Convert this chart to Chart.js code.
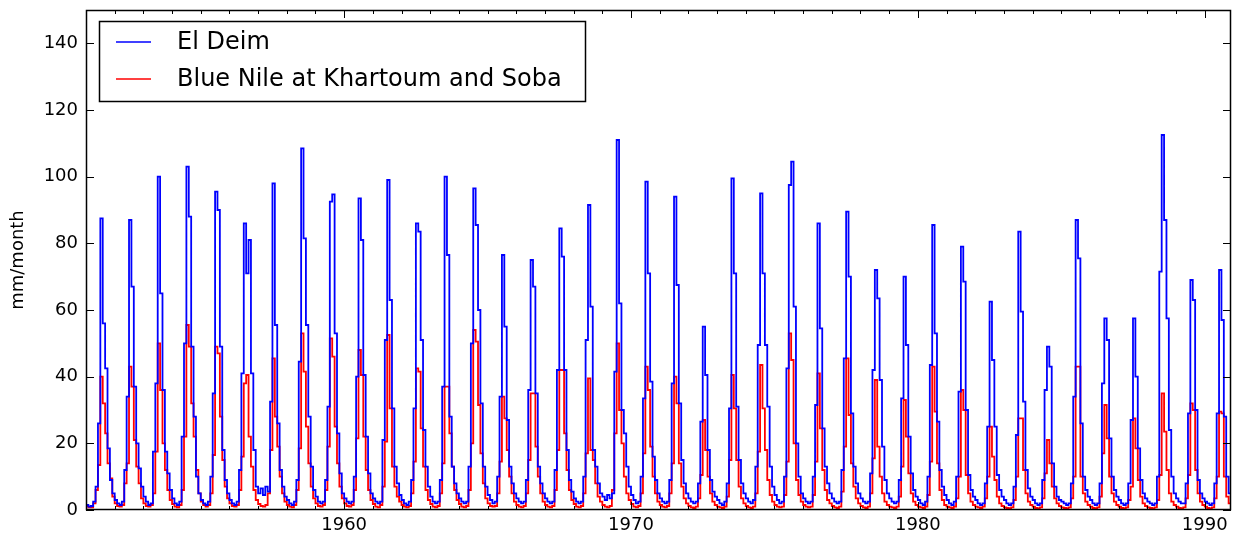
<!DOCTYPE html>
<html>
<head>
<meta charset="utf-8">
<script src="https://cdn.jsdelivr.net/npm/chart.js@4.4.1/dist/chart.umd.min.js"></script>
<style>
  html, body { margin: 0; padding: 0; background: #fff; }
</style>
</head>
<body>
<canvas id="myChart" width="1233" height="538"></canvas>
<script>
// monthly values, Jan..Dec, one row per year starting 1951
const startYear = 1951;

const elDeim = [
  2.5, 1.5, 1.0, 1.2, 2.5, 7.0, 26.0, 87.5, 56.0, 42.5, 18.5, 9.0,
  5.0, 3.0, 2.0, 1.5, 2.5, 12.0, 34.0, 87.0, 67.0, 37.0, 20.0, 12.5,
  7.0, 4.0, 2.5, 1.5, 2.0, 17.5, 38.0, 100.0, 65.0, 36.0, 17.5, 11.0,
  6.0, 3.5, 2.0, 1.5, 2.5, 22.0, 50.0, 103.0, 88.0, 49.0, 28.0, 10.0,
  5.0, 3.0, 2.0, 1.5, 2.5, 10.0, 35.0, 95.5, 90.0, 49.0, 18.0, 9.0,
  5.0, 3.0, 2.0, 1.5, 2.5, 12.0, 41.0, 86.0, 71.0, 81.0, 41.0, 18.0,
  7.0, 5.0, 6.5, 4.5, 7.0, 5.5, 32.5, 98.0, 55.5, 26.0, 12.0, 7.0,
  4.0, 3.0, 2.0, 1.5, 2.5, 9.0, 44.5, 108.5, 81.5, 55.5, 28.0, 13.0,
  6.0, 4.0, 2.5, 2.0, 2.5, 9.0, 31.0, 92.5, 94.7, 53.0, 23.0, 11.0,
  5.0, 3.5, 2.5, 2.0, 2.5, 10.0, 40.0, 93.5, 81.0, 40.5, 22.0, 11.0,
  5.0, 3.5, 2.5, 2.0, 2.5, 21.0, 51.0, 99.0, 63.0, 30.5, 13.0, 8.0,
  4.5, 3.0, 2.0, 1.5, 2.5, 9.0, 30.5, 86.0, 83.5, 51.0, 24.0, 13.0,
  7.0, 4.0, 2.5, 2.0, 2.5, 9.0, 37.0, 100.0, 76.5, 28.0, 13.0, 8.0,
  5.0, 3.5, 2.5, 2.0, 2.5, 13.0, 50.0, 96.5, 85.5, 60.0, 32.0, 13.0,
  7.0, 4.5, 3.0, 2.0, 2.5, 10.0, 34.0, 76.5, 55.0, 27.0, 13.0, 8.0,
  5.0, 3.5, 2.5, 2.0, 2.5, 9.0, 36.0, 75.0, 67.0, 35.0, 13.0, 8.0,
  5.0, 3.5, 2.5, 2.0, 2.5, 12.0, 42.0, 84.5, 76.0, 42.0, 18.0, 9.0,
  5.5, 3.5, 2.5, 2.0, 2.5, 10.0, 51.0, 91.5, 61.0, 18.0, 13.0, 8.0,
  5.0, 4.0, 3.0, 4.5, 3.5, 5.0, 41.5, 111.0, 62.0, 30.0, 23.0, 13.0,
  7.0, 4.5, 3.0, 2.0, 2.5, 10.0, 33.5, 98.5, 71.0, 38.5, 16.0, 9.0,
  5.0, 3.5, 2.5, 2.0, 2.5, 9.0, 38.0, 94.0, 67.5, 32.0, 15.0, 8.0,
  5.0, 3.5, 2.5, 2.0, 2.5, 8.0, 26.5, 55.0, 40.5, 18.0, 9.0, 5.5,
  4.0, 3.0, 2.0, 1.5, 2.5, 8.0, 30.5, 99.5, 71.0, 31.0, 15.0, 8.0,
  5.0, 3.5, 2.5, 2.0, 3.0, 13.0, 49.5, 95.0, 71.0, 49.5, 31.0, 13.0,
  7.0, 4.5, 3.0, 2.0, 2.5, 10.0, 42.5, 97.5, 104.5, 61.0, 20.0, 10.0,
  5.0, 3.5, 2.5, 2.0, 2.5, 10.0, 31.5, 86.0, 54.5, 24.5, 13.0, 8.0,
  5.0, 3.5, 2.5, 2.0, 2.5, 12.0, 45.5, 89.5, 70.0, 29.0, 13.0, 8.0,
  5.0, 3.5, 2.5, 2.0, 2.5, 11.0, 42.0, 72.0, 63.5, 39.0, 19.0, 9.0,
  5.0, 3.5, 2.5, 2.0, 2.5, 9.0, 33.5, 70.0, 49.5, 22.0, 11.0, 6.0,
  4.0, 3.0, 2.0, 1.5, 2.5, 10.0, 43.5, 85.5, 53.0, 26.5, 12.0, 7.0,
  4.5, 3.0, 2.0, 1.5, 2.5, 10.0, 35.5, 79.0, 68.5, 30.0, 10.5, 6.0,
  4.0, 3.0, 2.0, 1.5, 2.0, 8.0, 25.0, 62.5, 45.0, 25.0, 10.5, 6.0,
  4.0, 3.0, 2.0, 1.5, 2.0, 7.0, 22.5, 83.5, 59.5, 32.5, 12.0, 6.5,
  4.0, 3.0, 2.0, 1.5, 2.0, 9.0, 36.0, 49.0, 43.0, 14.0, 7.0, 4.0,
  3.0, 2.5, 2.0, 1.5, 2.0, 8.0, 34.0, 87.0, 75.5, 26.0, 10.0, 6.0,
  4.0, 3.0, 2.0, 1.5, 2.0, 8.0, 38.0, 57.5, 51.0, 21.5, 10.0, 6.0,
  4.0, 3.0, 2.0, 1.5, 2.0, 8.0, 27.0, 57.5, 40.0, 18.5, 9.0, 5.0,
  3.5, 2.5, 2.0, 1.5, 2.0, 10.0, 71.5, 112.5, 87.0, 57.5, 24.0, 10.0,
  5.0, 3.5, 2.5, 2.0, 2.0, 8.0, 29.0, 69.0, 63.0, 30.0, 9.0, 5.0,
  3.5, 2.5, 2.0, 1.5, 2.0, 8.0, 29.0, 72.0, 57.0, 28.0, 10.0, 5.0
];

const blueNile = [
  1.0, 1.2, 0.8, 0.8, 2.0, 6.0, 13.5, 40.0, 32.0, 23.0, 14.0, 9.5,
  4.0, 2.0, 1.2, 1.0, 1.5, 8.0, 14.0, 43.0, 37.0, 21.0, 13.0, 8.0,
  3.5, 2.0, 1.2, 1.0, 1.5, 5.0, 17.5, 50.0, 36.0, 20.0, 12.0, 6.0,
  3.0, 1.8, 1.0, 0.8, 1.5, 6.0, 22.0, 55.5, 49.0, 32.0, 22.0, 12.0,
  5.0, 2.5, 1.5, 1.0, 1.5, 5.0, 16.5, 49.0, 47.0, 28.0, 15.0, 7.0,
  3.5, 2.0, 1.2, 1.0, 1.5, 6.0, 16.0, 38.0, 40.5, 22.0, 13.0, 6.0,
  3.0, 1.8, 1.2, 1.0, 1.5, 5.0, 18.0, 45.5, 28.0, 19.0, 10.0, 5.0,
  2.5, 1.5, 1.0, 0.8, 1.5, 6.0, 18.5, 53.0, 41.5, 25.0, 14.0, 7.0,
  3.5, 2.0, 1.2, 1.0, 1.5, 6.0, 19.0, 51.5, 46.0, 25.0, 14.0, 7.0,
  3.5, 2.0, 1.2, 1.0, 1.5, 6.0, 21.5, 48.0, 40.5, 22.0, 12.0, 6.0,
  3.0, 1.8, 1.0, 0.8, 1.5, 7.0, 20.5, 52.5, 30.5, 13.0, 7.0, 4.0,
  2.5, 1.5, 1.0, 0.8, 1.2, 5.0, 14.5, 42.5, 41.5, 24.5, 13.0, 6.0,
  3.0, 1.8, 1.0, 0.8, 1.2, 5.0, 14.0, 37.0, 37.0, 23.0, 13.0, 6.0,
  3.0, 1.8, 1.0, 0.8, 1.2, 6.0, 20.0, 54.0, 50.5, 31.5, 17.0, 8.0,
  3.5, 2.0, 1.2, 1.0, 1.2, 5.0, 14.5, 34.0, 27.5, 18.0, 10.0, 5.0,
  2.5, 1.5, 1.0, 0.8, 1.2, 5.0, 15.0, 35.0, 35.0, 19.0, 10.0, 5.0,
  2.5, 1.5, 1.0, 0.8, 1.2, 6.0, 18.0, 42.0, 42.0, 23.0, 12.0, 6.0,
  3.0, 1.8, 1.0, 0.8, 1.2, 5.0, 17.0, 39.5, 18.0, 15.0, 8.0, 4.0,
  2.5, 1.5, 1.0, 0.8, 1.2, 6.0, 23.0, 50.0, 30.0, 20.0, 10.0, 5.0,
  3.0, 1.8, 1.0, 0.8, 1.2, 5.0, 17.0, 43.0, 36.0, 19.0, 10.0, 5.0,
  2.5, 1.5, 1.0, 0.8, 1.2, 5.0, 14.0, 40.0, 32.0, 14.0, 7.0, 3.5,
  2.0, 1.2, 0.8, 0.6, 1.0, 3.5, 10.5, 27.0, 18.0, 10.0, 5.0, 2.5,
  1.5, 1.0, 0.8, 0.6, 1.0, 4.0, 15.0, 40.5, 30.5, 15.0, 7.0, 3.5,
  2.0, 1.2, 0.8, 0.6, 1.0, 5.0, 17.5, 43.5, 30.5, 18.0, 9.0, 4.5,
  2.5, 1.5, 1.0, 0.8, 1.0, 4.5, 14.5, 53.0, 45.0, 20.0, 9.0, 4.5,
  2.5, 1.5, 1.0, 0.8, 1.0, 4.5, 14.5, 41.0, 24.5, 12.0, 6.0, 3.0,
  2.0, 1.2, 0.8, 0.6, 1.0, 5.5, 19.0, 45.5, 28.5, 14.0, 7.0, 3.5,
  2.0, 1.2, 0.8, 0.6, 1.0, 5.0, 15.5, 39.0, 19.0, 10.0, 5.0, 2.5,
  1.5, 1.0, 0.8, 0.6, 1.0, 4.0, 13.0, 33.0, 22.0, 11.0, 5.0, 2.5,
  1.5, 1.0, 0.8, 0.6, 1.0, 4.5, 14.5, 43.0, 29.5, 14.0, 6.0, 3.0,
  1.5, 1.0, 0.8, 0.6, 1.0, 3.5, 10.0, 36.0, 30.0, 10.5, 5.0, 2.5,
  1.5, 1.0, 0.8, 0.6, 1.0, 3.5, 10.0, 25.0, 16.0, 9.0, 4.0, 2.0,
  1.2, 0.8, 0.6, 0.5, 0.8, 3.0, 10.0, 27.5, 27.5, 12.0, 5.0, 2.5,
  1.5, 1.0, 0.6, 0.5, 0.8, 3.5, 11.0, 21.0, 14.0, 7.0, 3.5, 2.0,
  1.2, 0.8, 0.6, 0.5, 0.8, 3.5, 10.0, 43.0, 43.0, 10.0, 5.0, 2.5,
  1.5, 1.0, 0.6, 0.5, 0.8, 4.0, 17.0, 31.5, 21.5, 10.0, 5.0, 2.5,
  1.5, 1.0, 0.6, 0.5, 0.8, 3.0, 7.0, 27.5, 18.5, 9.0, 4.0, 2.0,
  1.2, 0.8, 0.6, 0.5, 0.8, 3.0, 10.5, 35.0, 23.5, 12.0, 5.0, 2.5,
  1.5, 1.0, 0.6, 0.5, 0.8, 3.5, 10.5, 32.0, 30.0, 12.0, 5.0, 2.5,
  1.5, 1.0, 0.6, 0.5, 0.8, 3.5, 10.0, 29.5, 29.0, 10.0, 4.0, 2.0
];

const seriesNames = ["El Deim", "Blue Nile at Khartoum and Soba"];
const seriesColors = ["#0000ff", "#ff0000"];
const xTicks = [1960, 1970, 1980, 1990];
const yTicks = [0, 20, 40, 60, 80, 100, 120, 140];

const font = { family: "DejaVu Sans", size: 18 };

function toPoints(values) {
  return values.map((v, i) => ({ x: startYear + i / 12, y: v }));
}

// inward ticks on all four sides, the frame and the legend box
const axesDecor = {
  id: "axesDecor",
  afterDatasetsDraw(chart) {
    const { ctx, chartArea: a, scales } = chart;
    const xs = scales.x, ys = scales.y;
    ctx.save();
    ctx.strokeStyle = "#000";
    ctx.lineWidth = 1;
    ctx.beginPath();
    for (let yr = startYear; yr <= 1990; yr++) {
      const px = Math.round(xs.getPixelForValue(yr)) + 0.5;
      const len = xTicks.includes(yr) ? 8 : 4;
      ctx.moveTo(px, a.bottom); ctx.lineTo(px, a.bottom - len);
      ctx.moveTo(px, a.top); ctx.lineTo(px, a.top + len);
    }
    yTicks.forEach(v => {
      const py = Math.round(ys.getPixelForValue(v)) + 0.5;
      ctx.moveTo(a.left, py); ctx.lineTo(a.left + 8, py);
      ctx.moveTo(a.right, py); ctx.lineTo(a.right - 8, py);
    });
    ctx.stroke();
    ctx.lineWidth = 1.5;
    ctx.strokeRect(Math.round(a.left) + 0.5, Math.round(a.top) + 0.5,
                   Math.round(a.right - a.left) - 1, Math.round(a.bottom - a.top) - 1);

    // legend
    const bx = 99, by = 21, bw = 486, bh = 80;
    ctx.fillStyle = "#fff";
    ctx.fillRect(bx, by, bw, bh);
    ctx.lineWidth = 1.5;
    ctx.strokeRect(bx + 0.5, by + 0.5, bw, bh);
    ctx.font = "24px 'DejaVu Sans'";
    ctx.textBaseline = "middle";
    seriesNames.forEach((name, i) => {
      const ly = 42 + i * 37;
      ctx.strokeStyle = seriesColors[i];
      ctx.beginPath();
      ctx.moveTo(116, ly); ctx.lineTo(151, ly);
      ctx.stroke();
      ctx.fillStyle = "#000";
      ctx.fillText(name, 177, ly + 1);
    });
    ctx.restore();
  }
};

const config = {
  type: "line",
  data: {
    datasets: [
      { label: seriesNames[0], data: toPoints(elDeim), borderColor: seriesColors[0],
        borderWidth: 1.8, pointRadius: 0, stepped: "after", fill: false },
      { label: seriesNames[1], data: toPoints(blueNile), borderColor: seriesColors[1],
        borderWidth: 1.8, pointRadius: 0, stepped: "after", fill: false }
    ]
  },
  options: {
    responsive: false,
    animation: false,
    events: [],
    layout: { padding: { left: 0, right: 2, top: 10, bottom: 0 } },
    plugins: { legend: { display: false }, tooltip: { enabled: false } },
    scales: {
      x: {
        type: "linear",
        min: startYear,
        max: startYear + (elDeim.length - 1) / 12,
        afterBuildTicks: s => { s.ticks = xTicks.map(v => ({ value: v })); },
        afterFit: s => { s.height = 28; s.paddingLeft = 0; s.paddingRight = 0; },
        grid: { display: false, drawTicks: false },
        border: { display: false },
        ticks: { font: font, color: "#000", padding: 5, maxRotation: 0, autoSkip: false,
                 callback: v => String(v) }
      },
      y: {
        min: 0,
        max: 150,
        afterBuildTicks: s => { s.ticks = yTicks.map(v => ({ value: v })); },
        afterFit: s => { s.width = 86; s.paddingTop = 0; s.paddingBottom = 0; },
        grid: { display: false, drawTicks: false },
        border: { display: false },
        ticks: { font: font, color: "#000", padding: 8 },
        title: { display: true, text: "mm/month", font: font, color: "#000",
                 padding: { top: 8, bottom: 0 } }
      }
    }
  },
  plugins: [axesDecor]
};

const myChart = new Chart(document.getElementById("myChart"), config);
</script>
</body>
</html>
